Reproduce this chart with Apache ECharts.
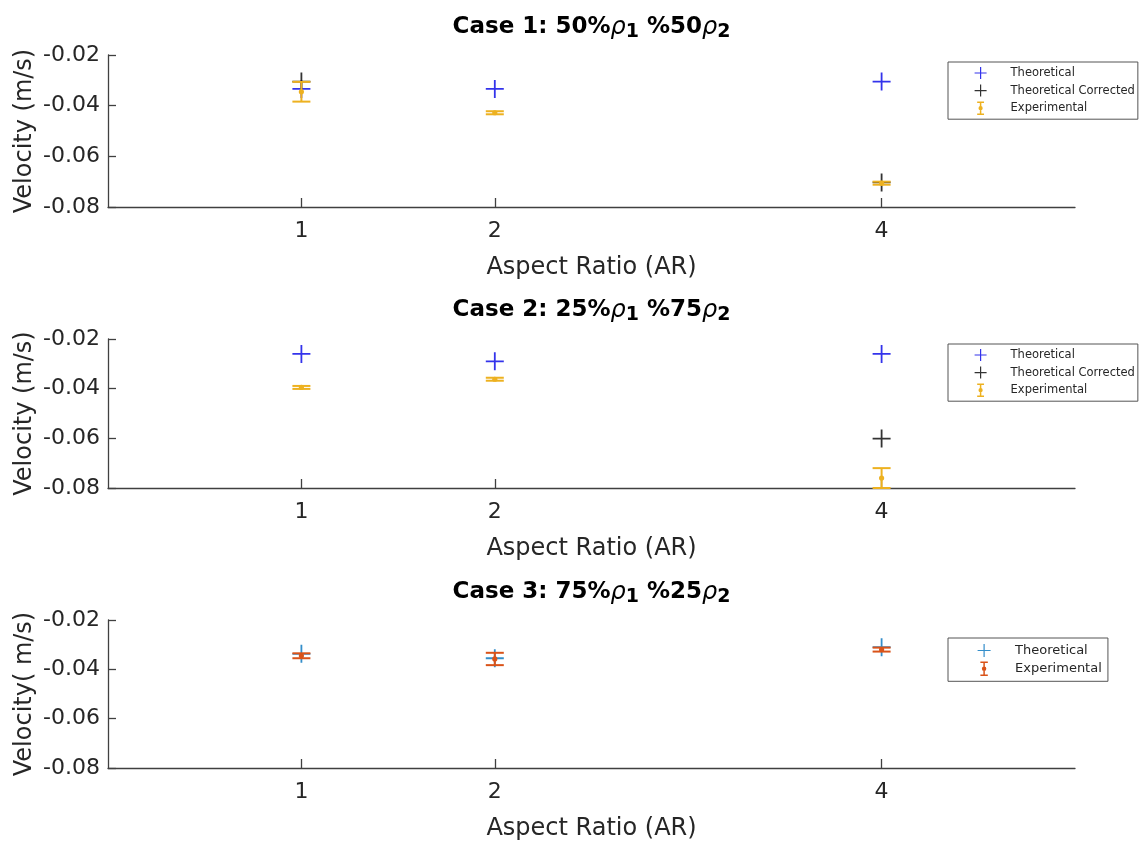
<!DOCTYPE html>
<html><head><meta charset="utf-8">
<script src="https://cdn.jsdelivr.net/npm/echarts@6/dist/echarts.min.js"></script>
<style>html,body{margin:0;padding:0;background:#fff}#c{width:1144px;height:843px}</style>
</head><body><div id="c"></div>
<script>
// ---------- data ----------
const AR = [1, 2, 4];
const xTickValues = [1, 2, 4];
const yTickValues = [-0.08, -0.06, -0.04, -0.02];

const caseLabels = ['Case 1', 'Case 2', 'Case 3'];
const rho1Pct = ['50', '25', '75'];
const rho2Pct = ['50', '75', '25'];
const yAxisNames = ['Velocity (m/s)', 'Velocity (m/s)', 'Velocity( m/s)'];
const xAxisName = 'Aspect Ratio (AR)';

const case1Theoretical = [-0.0334, -0.0334, -0.0305];
const case1Corrected   = [-0.0305, null, -0.0703];
const case1ExpMean     = [-0.0345, -0.0428, -0.0706];
const case1ExpErr      = [0.0039, 0.0006, 0.0006];

const case2Theoretical = [-0.0260, -0.0290, -0.0260];
const case2Corrected   = [null, null, -0.0601];
const case2ExpMean     = [-0.0395, -0.0362, -0.0760];
const case2ExpErr      = [0.0006, 0.0006, 0.0040];

const case3Theoretical = [-0.0337, -0.0355, -0.0310];
const case3ExpMean     = [-0.0345, -0.0358, -0.0320];
const case3ExpErr      = [0.0010, 0.0025, 0.0008];

// ---------- styling / layout ----------
const FONT = 'DejaVu Sans, Liberation Sans, Arial, sans-serif';
const TXT = '#262626';
const AXC = '#404040';
const grids = [
  {left: 108, top: 55, width: 967, height: 152},
  {left: 108, top: 339, width: 967, height: 149},
  {left: 108, top: 620, width: 967, height: 148}
];
const titleTops = [16, 299, 581];
const legendTops = [62, 344, 638];
const panels = [
  {theo: case1Theoretical, corr: case1Corrected, mean: case1ExpMean, err: case1ExpErr,
   theoColor: '#0000e6', corrColor: '#000000', expColor: '#EDB120',
   names: ['Theoretical', 'Theoretical Corrected', 'Experimental']},
  {theo: case2Theoretical, corr: case2Corrected, mean: case2ExpMean, err: case2ExpErr,
   theoColor: '#0000e6', corrColor: '#000000', expColor: '#EDB120',
   names: ['Theoretical', 'Theoretical Corrected', 'Experimental']},
  {theo: case3Theoretical, corr: null, mean: case3ExpMean, err: case3ExpErr,
   theoColor: '#0072BD', corrColor: null, expColor: '#D95319',
   names: ['Theoretical ', 'Experimental ']}
];

const CROSS = 'path://M0,-1 L0,1 M-1,0 L1,0';
const ERRICON = 'path://M0,0 L8,0 M4,0 L4,14 M0,14 L8,14 M5.6,7 A1.6,1.6 0 1 1 2.4,7 A1.6,1.6 0 1 1 5.6,7 Z';

function pairs(xs, ys) {
  const out = [];
  xs.forEach((x, j) => { if (ys[j] !== null && ys[j] !== undefined) out.push([x, ys[j]]); });
  return out;
}
function errRows(xs, m, e) {
  return xs.map((x, j) => [x, m[j], m[j] - e[j], m[j] + e[j]]);
}
function errRender(color) {
  return function (params, api) {
    const x = api.value(0);
    const pm = api.coord([x, api.value(1)]);
    const pl = api.coord([x, api.value(2)]);
    const ph = api.coord([x, api.value(3)]);
    const hw = 9;
    const st = {stroke: color, lineWidth: 2};
    return {type: 'group', children: [
      {type: 'line', shape: {x1: pl[0], y1: pl[1], x2: ph[0], y2: ph[1]}, style: st},
      {type: 'line', shape: {x1: pl[0] - hw, y1: pl[1], x2: pl[0] + hw, y2: pl[1]}, style: st},
      {type: 'line', shape: {x1: ph[0] - hw, y1: ph[1], x2: ph[0] + hw, y2: ph[1]}, style: st},
      {type: 'circle', shape: {cx: pm[0], cy: pm[1], r: 2.6}, style: {fill: color}}
    ]};
  };
}

const option = {
  backgroundColor: '#ffffff',
  animation: false,
  title: [], grid: [], xAxis: [], yAxis: [], series: [], legend: []
};

panels.forEach((p, i) => {
  option.grid.push(Object.assign({containLabel: false}, grids[i]));
  option.title.push({
    text: '{b|' + caseLabels[i] + ': ' + rho1Pct[i] + '%}{r|ρ}{s|1}{b| %' + rho2Pct[i] + '}{r|ρ}{s|2}',
    left: grids[i].left + grids[i].width / 2, top: titleTops[i], textAlign: 'center', padding: 0,
    textStyle: {
      rich: {
        b: {fontFamily: FONT, fontWeight: 'bold', fontSize: 23, color: '#000', lineHeight: 26, verticalAlign: 'top'},
        r: {fontFamily: FONT, fontWeight: 'normal', fontStyle: 'italic', fontSize: 24, color: '#000', lineHeight: 26, verticalAlign: 'top'},
        s: {fontFamily: FONT, fontWeight: 'bold', fontSize: 19, color: '#000', lineHeight: 20, padding: [16, 0, 0, 0], verticalAlign: 'bottom'}
      }
    }
  });
  option.xAxis.push({
    type: 'value', gridIndex: i, min: 0, max: 5,
    name: xAxisName, nameLocation: 'middle', nameGap: 49, nameMoveOverlap: false,
    nameTextStyle: {fontFamily: FONT, fontSize: 24, color: TXT},
    axisLine: {show: true, onZero: false, lineStyle: {color: AXC, width: 1.3}},
    axisTick: {show: true, inside: true, length: 9, customValues: xTickValues, lineStyle: {color: AXC, width: 1.3}},
    axisLabel: {show: true, customValues: xTickValues, margin: 13, fontFamily: FONT, fontSize: 22, color: TXT},
    splitLine: {show: false}
  });
  option.yAxis.push({
    type: 'value', gridIndex: i, min: -0.08, max: -0.02, interval: 0.02,
    name: yAxisNames[i], nameLocation: 'middle', nameGap: 71, nameMoveOverlap: false,
    nameTextStyle: {fontFamily: FONT, fontSize: 24, color: TXT},
    axisLine: {show: true, onZero: false, lineStyle: {color: AXC, width: 1.3}},
    axisTick: {show: true, inside: true, length: 8, lineStyle: {color: AXC, width: 1.3}},
    axisLabel: {show: true, margin: 8, fontFamily: FONT, fontSize: 22, color: TXT,
      formatter: v => v.toFixed(2)},
    splitLine: {show: false}
  });
  option.series.push({
    type: 'scatter', name: p.names[0], xAxisIndex: i, yAxisIndex: i,
    data: pairs(AR, p.theo), symbol: CROSS, symbolSize: 18,
    itemStyle: {color: p.theoColor, borderColor: p.theoColor, borderWidth: 1.8}, z: 2
  });
  if (p.corr) {
    option.series.push({
      type: 'scatter', name: p.names[1], xAxisIndex: i, yAxisIndex: i,
      data: pairs(AR, p.corr), symbol: CROSS, symbolSize: 18,
      itemStyle: {color: p.corrColor, borderColor: p.corrColor, borderWidth: 1.8}, z: 3
    });
  }
  option.series.push({
    type: 'custom', name: p.names[p.names.length - 1], xAxisIndex: i, yAxisIndex: i,
    data: errRows(AR, p.mean, p.err), renderItem: errRender(p.expColor),
    itemStyle: {color: p.expColor}, z: 4,
    encode: {x: 0, y: [1, 2, 3]}
  });

  const small = i < 2;
  const legendData = p.names.map((n, k) => {
    const isErr = k === p.names.length - 1;
    const col = isErr ? p.expColor : (k === 0 ? p.theoColor : p.corrColor);
    return {name: n, icon: isErr ? ERRICON : CROSS,
      itemStyle: {color: col, borderColor: col, borderWidth: isErr ? 1.5 : 1.2}};
  });
  option.legend.push({
    orient: 'vertical', left: 948, top: legendTops[i],
    data: legendData, selectedMode: false,
    itemWidth: small ? 50 : 52, itemHeight: small ? 12 : 13, itemGap: small ? 3.6 : 3.3,
    symbolKeepAspect: true,
    padding: small ? [4, 3, 4, 26] : [5, 2, 5, 29],
    backgroundColor: '#fff', borderColor: '#555', borderWidth: 1, borderRadius: 0,
    textStyle: {fontFamily: FONT, fontSize: small ? 11.5 : 13, color: TXT, lineHeight: small ? 14 : 15}
  });
});

const chart = echarts.init(document.getElementById('c'), null, {renderer: 'canvas'});
chart.setOption(option);
</script></body></html>
